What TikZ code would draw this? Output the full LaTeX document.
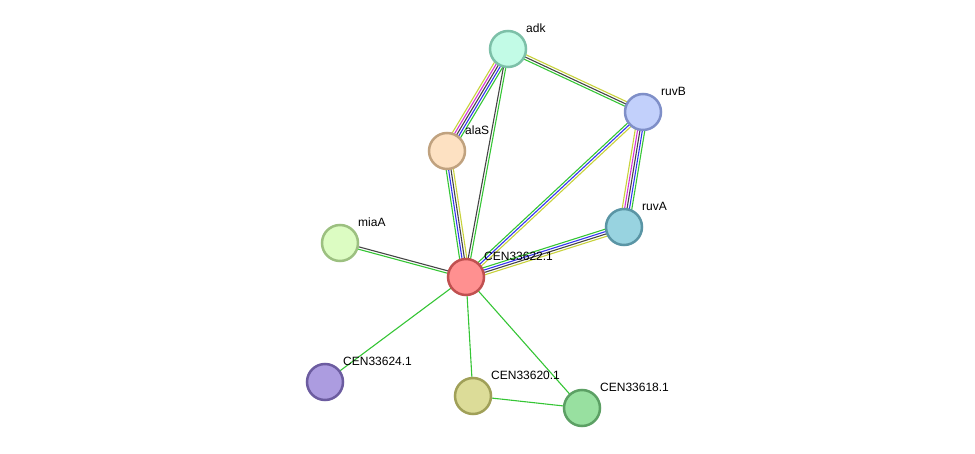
\documentclass[tikz,border=0pt]{standalone}
\usepackage{fontspec}
\setmainfont{Liberation Sans}
\usetikzlibrary{calc, backgrounds}

% node colours
\definecolor{adkfill}{HTML}{C2FBE6}   \definecolor{adkline}{HTML}{7DC0A8}
\definecolor{ruvbfill}{HTML}{C2D0FB}  \definecolor{ruvbline}{HTML}{7F8FC8}
\definecolor{alasfill}{HTML}{FDE1C2}  \definecolor{alasline}{HTML}{C0A27F}
\definecolor{ruvafill}{HTML}{98D3E0}  \definecolor{ruvaline}{HTML}{5A95A5}
\definecolor{miaafill}{HTML}{DCFCC2}  \definecolor{miaaline}{HTML}{9CC080}
\definecolor{hubfill}{HTML}{FF9090}   \definecolor{hubline}{HTML}{C05050}
\definecolor{cfourfill}{HTML}{AC9CE0} \definecolor{cfourline}{HTML}{6C5CA0}
\definecolor{ctwofill}{HTML}{DCDC98}  \definecolor{ctwoline}{HTML}{A0A058}
\definecolor{ceightfill}{HTML}{98E0A0}\definecolor{ceightline}{HTML}{5CA064}
% evidence colours
\definecolor{evyellow}{HTML}{C8D23C}
\definecolor{evmagenta}{HTML}{D535D5}
\definecolor{evdark}{HTML}{454545}
\definecolor{evblue}{HTML}{3535F0}
\definecolor{evgreen}{HTML}{35C535}

\tikzset{
  protein/.style={circle, minimum size=36pt, inner sep=0pt, line width=2.5pt},
  genelabel/.style={anchor=west, inner sep=0pt, font=\fontsize{12}{14}\selectfont},
  evidence/.style={line width=1.1pt}
}

% bundle of parallel evidence lines between two nodes
\newcommand{\linkset}[4]{%
  \foreach \col [count=\k] in {#4}{
    \pgfmathsetmacro{\off}{((#3+1)/2-\k)*2.4}
    \draw[\col, evidence] ($(#1)!\off pt!90:(#2)$) -- ($(#2)!\off pt!-90:(#1)$);
  }}

\begin{document}
\begin{tikzpicture}[x=1pt, y=-1pt]
  \useasboundingbox (0,0) rectangle (975,454);

  % proteins
  \node[protein, draw=adkline, fill=adkfill] (adk) at (508,49) {};
  \node[protein, draw=ruvbline, fill=ruvbfill] (ruvB) at (643,112) {};
  \node[protein, draw=alasline, fill=alasfill] (alaS) at (447,151) {};
  \node[protein, draw=ruvaline, fill=ruvafill] (ruvA) at (624,227) {};
  \node[protein, draw=miaaline, fill=miaafill] (miaA) at (340,243) {};
  \node[protein, draw=hubline, fill=hubfill] (hub) at (466,277) {};
  \node[protein, draw=cfourline, fill=cfourfill] (c624) at (325,382) {};
  \node[protein, draw=ctwoline, fill=ctwofill] (c620) at (473,396) {};
  \node[protein, draw=ceightline, fill=ceightfill] (c618) at (582,408) {};

  % labels
  \node[genelabel] (adk-l) at (526,28) {adk};
  \node[genelabel] (ruvB-l) at (661,91) {ruvB};
  \node[genelabel] (alaS-l) at (465,130) {alaS};
  \node[genelabel] (ruvA-l) at (642,206) {ruvA};
  \node[genelabel] (miaA-l) at (358,222) {miaA};
  \node[genelabel] (hub-l) at (484,256) {CEN33622.1};
  \node[genelabel] (c624-l) at (343,361) {CEN33624.1};
  \node[genelabel] (c620-l) at (491,375) {CEN33620.1};
  \node[genelabel] (c618-l) at (600,387) {CEN33618.1};

  % interactions
  \begin{scope}[on background layer]
    \linkset{alaS}{adk}{5}{evyellow, evmagenta, evdark, evblue, evgreen}
    \linkset{adk}{ruvB}{3}{evyellow, evdark, evgreen}
    \linkset{adk}{hub}{2}{evgreen, evdark}
    \linkset{ruvA}{ruvB}{5}{evyellow, evmagenta, evdark, evblue, evgreen}
    \linkset{ruvB}{hub}{3}{evyellow, evblue, evgreen}
    \linkset{alaS}{hub}{4}{evyellow, evdark, evblue, evgreen}
    \linkset{ruvA}{hub}{4}{evyellow, evdark, evblue, evgreen}
    \linkset{miaA}{hub}{2}{evdark, evgreen}
    \linkset{hub}{c624}{1}{evgreen}
    \linkset{hub}{c620}{1}{evgreen}
    \linkset{hub}{c618}{1}{evgreen}
    \linkset{c620}{c618}{1}{evgreen}
  \end{scope}
\end{tikzpicture}
\end{document}
